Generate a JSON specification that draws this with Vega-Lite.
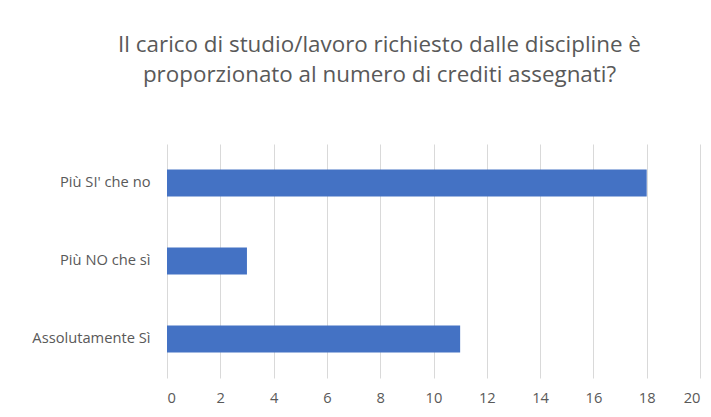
{
  "$schema": "https://vega.github.io/schema/vega-lite/v6.json",
  "autosize": "none",
  "width": 533,
  "height": 234,
  "padding": {"left": 167, "top": 144, "right": 11, "bottom": 39},
  "background": "white",
  "title": {
    "text": ["Il carico di studio/lavoro richiesto dalle discipline è", "proporzionato al numero di crediti assegnati?"],
    "font": "Open Sans",
    "fontSize": 22.4,
    "fontWeight": "normal",
    "color": "#595959",
    "lineHeight": 30,
    "anchor": "middle",
    "dx": -54,
    "baseline": "alphabetic",
    "offset": 40
  },
  "data": {
    "values": [
      {"risposta": "Più SI' che no", "conteggio": 18},
      {"risposta": "Più NO che sì", "conteggio": 3},
      {"risposta": "Assolutamente Sì", "conteggio": 11}
    ]
  },
  "mark": {"type": "bar", "color": "#4472C4"},
  "encoding": {
    "y": {
      "field": "risposta",
      "type": "nominal",
      "sort": ["Più SI' che no", "Più NO che sì", "Assolutamente Sì"],
      "scale": {"paddingInner": 0.654, "paddingOuter": 0.327},
      "axis": {
        "title": null,
        "domain": false,
        "ticks": false,
        "grid": false,
        "labelFont": "Open Sans",
        "labelFontSize": 14.7,
        "labelColor": "#595959",
        "labelPadding": 17
      }
    },
    "x": {
      "field": "conteggio",
      "type": "quantitative",
      "scale": {"domain": [0, 20], "nice": false},
      "axis": {
        "title": null,
        "values": [0, 2, 4, 6, 8, 10, 12, 14, 16, 18, 20],
        "domain": false,
        "ticks": false,
        "grid": true,
        "gridColor": "#d9d9d9",
        "gridWidth": 1,
        "labelFont": "Open Sans",
        "labelFontSize": 14.7,
        "labelColor": "#595959",
        "labelPadding": 12
      }
    }
  },
  "config": {"view": {"stroke": null}}
}
